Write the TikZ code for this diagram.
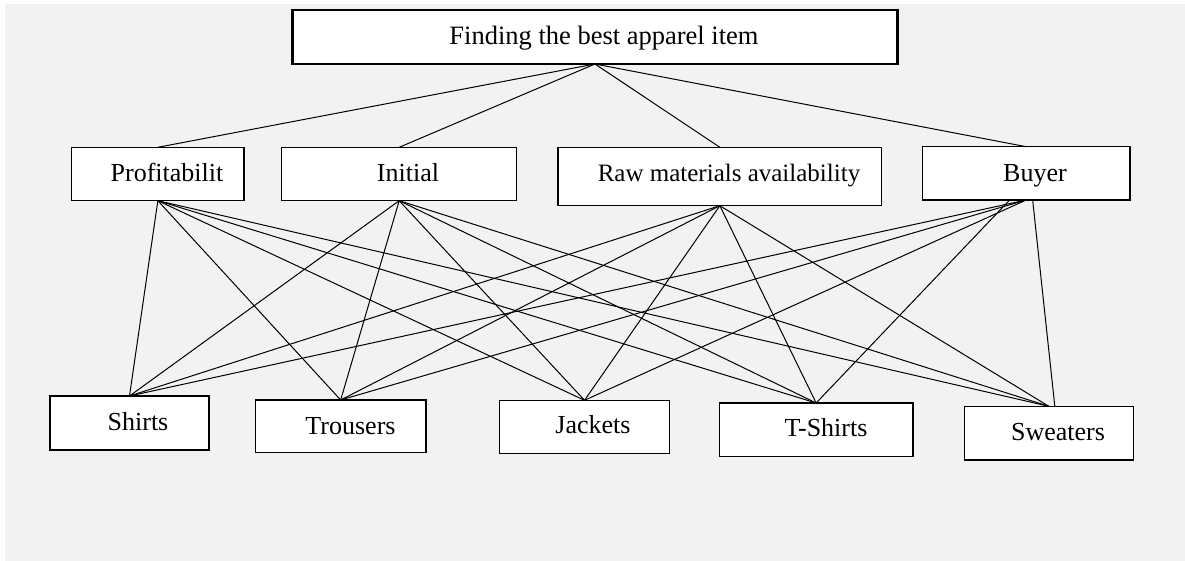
\documentclass[tikz,border=0pt]{standalone}
\usepackage{fontspec}
\setmainfont{Liberation Serif}
\usetikzlibrary{calc}
\definecolor{bggray}{HTML}{F2F2F2}
\begin{document}
\begin{tikzpicture}[x=1pt,y=-1pt,
  box/.style={draw=black,fill=white,line width=1.1pt,inner sep=0pt,outer sep=0pt,anchor=north west},
  topbox/.style={box,line width=2.6pt},
  lbl/.style={anchor=base,inner sep=0pt,font=\fontsize{26}{30}\selectfont},
  link/.style={draw=black,line width=1pt}]
\useasboundingbox (0,0) rectangle (1185,561);
\fill[white] (0,0) rectangle (1185,561);
\fill[bggray] (5,4) rectangle (1185,561);
% boxes
\node[topbox,minimum width=604.6pt,minimum height=54pt] (goal) at (292.7,10) {};
\node[box,minimum width=172.3pt,minimum height=53.4pt] (prof) at (71.7,147.3) {};
\node[box,minimum width=235pt,minimum height=53.4pt] (init) at (281.7,147.3) {};
\node[box,minimum width=323.7pt,minimum height=58.4pt] (raw) at (558,147.3) {};
\node[box,minimum width=207.7pt,minimum height=53.3pt] (buyer) at (922.3,146.7) {};
\node[box,minimum width=159pt,minimum height=54pt] (shirts) at (50,396) {};
\node[box,minimum width=170.7pt,minimum height=52.7pt] (trous) at (255.3,400) {};
\node[box,minimum width=170.4pt,minimum height=53pt] (jack) at (499.3,400.3) {};
\node[box,minimum width=193.7pt,minimum height=53.7pt] (tsh) at (719.3,403) {};
\node[box,minimum width=169pt,minimum height=53.7pt] (sweat) at (964.3,406.3) {};
% labels
\node[lbl,font=\fontsize{26.5}{30}\selectfont] (goalt) at (604,45) {Finding the best apparel item};
\node[lbl] (proft) at (167,181.7) {Profitabilit};
\node[lbl] (initt) at (408,181.7) {Initial};
\node[lbl,font=\fontsize{25}{30}\selectfont] (rawt) at (729,181.7) {Raw materials availability};
\node[lbl] (buyert) at (1035,181.7) {Buyer};
\node[lbl] (shirtst) at (138,430) {Shirts};
\node[lbl] (troust) at (350.5,434) {Trousers};
\node[lbl] (jackt) at (593,433.3) {Jackets};
\node[lbl] (tsht) at (826,436.7) {T-Shirts};
\node[lbl] (sweatt) at (1058,440) {Sweaters};
% special ports
\coordinate (buyerA) at ($(buyer.south)+(-16.5,0)$);
\coordinate (buyerB) at ($(buyer.south)+(6.5,0)$);
\coordinate (sweatB) at ($(sweat.north)+(6,0)$);
% links top
\begin{scope}[on background layer/.try]
\end{scope}
\foreach \m in {prof,init,raw,buyer}{
  \draw[link] (goal.south) -- (\m.north);
}
\foreach \m in {prof,init,raw}{
  \foreach \b in {shirts,trous,jack,tsh,sweat}{
    \draw[link] (\m.south) -- (\b.north);
  }
}
\foreach \b in {shirts,trous,jack}{
  \draw[link] (buyer.south) -- (\b.north);
}
\draw[link] (buyerA) -- (tsh.north);
\draw[link] (buyerB) -- (sweatB);
\end{tikzpicture}
\end{document}
